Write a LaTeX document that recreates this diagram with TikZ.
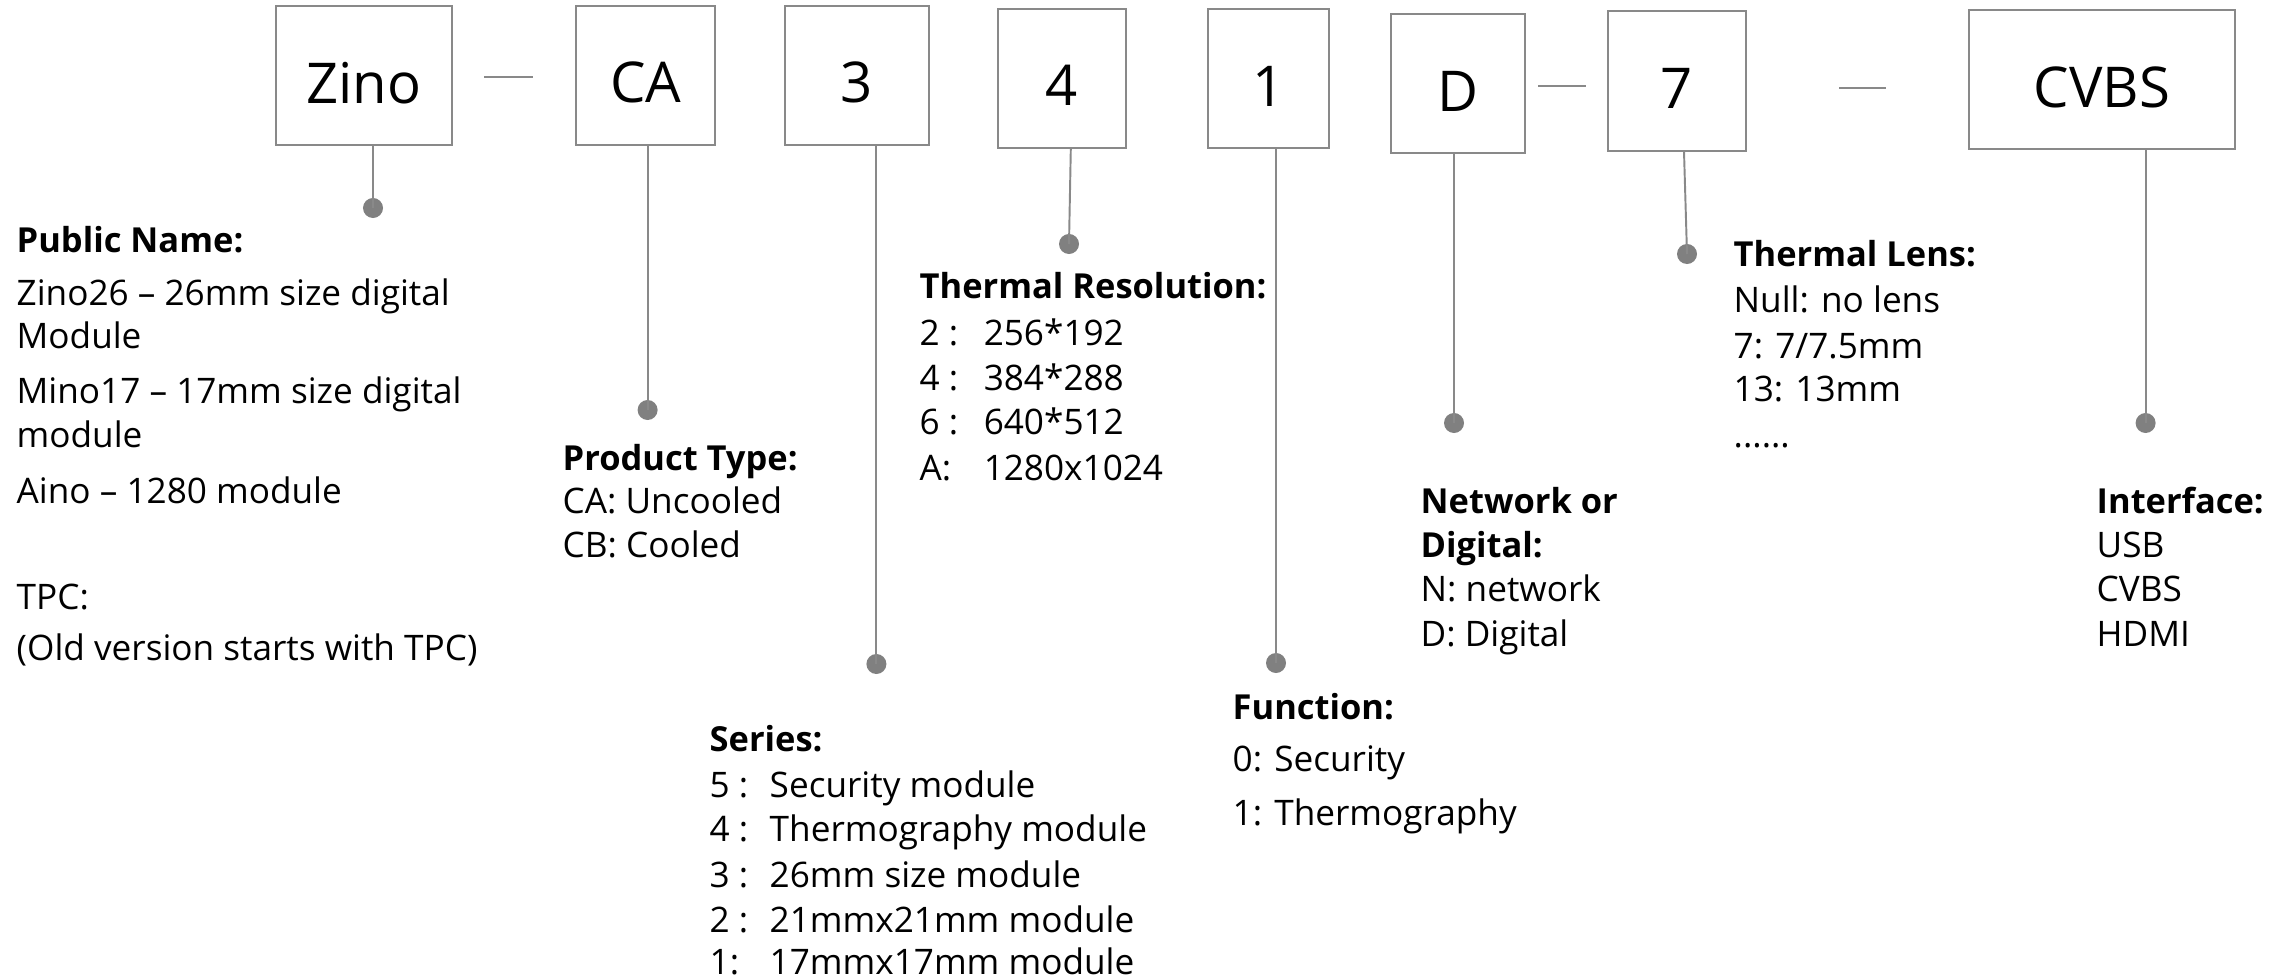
\documentclass[tikz,border=0pt]{standalone}
\usepackage{fontspec}
\setmainfont{Open Sans}
\definecolor{linegray}{RGB}{137,137,137}
\definecolor{dotgray}{RGB}{128,128,128}

\begin{document}
\begin{tikzpicture}[x=0.01cm,y=-0.01cm,
        box/.style={draw=linegray,line width=0.55pt,minimum height=1.39cm,inner sep=0,
            text height=0.55cm,text depth=0cm,font=\fontsize{16}{19}\selectfont},
        dot/.style={circle,fill=dotgray,inner sep=0,minimum size=0.2cm},
        lead/.style={draw=linegray,line width=0.55pt},
        txt/.style={anchor=base west,inner sep=0,font=\fontsize{10}{12}\selectfont},
        hd/.style={txt,font=\fontsize{9.8}{12}\selectfont\bfseries}]
        \useasboundingbox (0,0) rectangle (2293,979);
        % Code boxes
            \node[box,minimum width=1.76cm] (zino) at (364,75.5) {Zino};
            \node[box,minimum width=1.385cm] (ca) at (645.7,75.4) {CA};
            \node[box,minimum width=1.43cm] (ser) at (857,75.4) {3};
            \node[box,minimum width=1.28cm] (res) at (1062,78.4) {4};
            \node[box,minimum width=1.21cm] (fun) at (1268.5,78.5) {1};
            \node[box,minimum width=1.34cm] (net) at (1458,83.5) {D};
            \node[box,minimum width=1.375cm] (lens) at (1677,81) {7};
            \node[box,minimum width=2.66cm] (intf) at (2102,79.5) {CVBS};
        % Dashes between groups
            \draw[lead] (484,77) -- (533,77);
            \draw[lead] (1538,86) -- (1586,86);
            \draw[lead] (1839,88) -- (1886,88);
        % Dots and leads
            \node[dot] (dzino) at (373,208) {};
            \node[dot] (dca) at (647.6,410) {};
            \node[dot] (dser) at (876.4,664) {};
            \node[dot] (dres) at (1069,244) {};
            \node[dot] (dfun) at (1276,663) {};
            \node[dot] (dnet) at (1454,423) {};
            \node[dot] (dlens) at (1687,254) {};
            \node[dot] (dintf) at (2145.6,423) {};
            \draw[lead] (dzino.center) -- (dzino.center |- zino.south);
            \draw[lead] (dca.center) -- (dca.center |- ca.south);
            \draw[lead] (dser.center) -- (dser.center |- ser.south);
            \draw[lead] (dres.center) -- (1070.8,0 |- res.south);
            \draw[lead] (dfun.center) -- (dfun.center |- fun.south);
            \draw[lead] (dnet.center) -- (dnet.center |- net.south);
            \draw[lead] (dlens.center) -- (1684,0 |- lens.south);
            \draw[lead] (dintf.center) -- (dintf.center |- intf.south);
        % Public name
            \node[hd] (pn0) at (16,252) {Public Name:};
            \node[txt] (pn1) at (16,305) {Zino26 – 26mm size digital};
            \node[txt] (pn2) at (16,348) {Module};
            \node[txt] (pn3) at (16,403) {Mino17 – 17mm size digital};
            \node[txt] (pn4) at (16,448) {module};
            \node[txt] (pn5) at (16,503) {Aino – 1280 module};
            \node[txt] (pn6) at (16,609) {TPC:};
            \node[txt] (pn7) at (16,660) {(Old version starts with TPC)};
        % Product type
            \node[hd] (pt0) at (562,470) {Product Type:};
            \node[txt] (pt1) at (562,513) {CA: Uncooled};
            \node[txt] (pt2) at (562,557) {CB: Cooled};
        % Thermal resolution
            \node[hd] (tr0) at (919,298) {Thermal Resolution:};
            \node[txt] (tr1) at (919,345) {\makebox[0.64cm][l]{2 :}256*192};
            \node[txt] (tr2) at (919,390) {\makebox[0.64cm][l]{4 :}384*288};
            \node[txt] (tr3) at (919,435) {\makebox[0.64cm][l]{6 :}640*512};
            \node[txt] (tr4) at (919,480) {\makebox[0.64cm][l]{A:}1280x1024};
        % Series
            \node[hd] (sr0) at (709,751) {Series:};
            \node[txt] (sr1) at (709,797) {\makebox[0.6cm][l]{5 :}Security module};
            \node[txt] (sr2) at (709,841) {\makebox[0.6cm][l]{4 :}Thermography module};
            \node[txt] (sr3) at (709,887) {\makebox[0.6cm][l]{3 :}26mm size module};
            \node[txt] (sr4) at (709,932) {\makebox[0.6cm][l]{2 :}21mmx21mm module};
            \node[txt] (sr5) at (709,974) {\makebox[0.6cm][l]{1:}17mmx17mm module};
        % Function
            \node[hd] (fn0) at (1232,719) {Function:};
            \node[txt] (fn1) at (1232,771) {0: Security};
            \node[txt] (fn2) at (1232,825) {1: Thermography};
        % Network or digital
            \node[hd] (nd0) at (1420,513) {Network or};
            \node[hd] (nd1) at (1420,557) {Digital:};
            \node[txt] (nd2) at (1420,601) {N: network};
            \node[txt] (nd3) at (1420,646) {D: Digital};
        % Thermal lens
            \node[hd] (tl0) at (1733,267) {Thermal Lens:};
            \node[txt] (tl1) at (1733,313) {Null: no lens};
            \node[txt] (tl2) at (1733,358) {7: 7/7.5mm};
            \node[txt] (tl3) at (1733,402) {13: 13mm};
            \node[txt] (tl4) at (1733,448) {......};
        % Interface
            \node[hd] (if0) at (2096,513) {Interface:};
            \node[txt] (if1) at (2096,557) {USB};
            \node[txt] (if2) at (2096,601) {CVBS};
            \node[txt] (if3) at (2096,646) {HDMI};
    \end{tikzpicture}
\end{document}
